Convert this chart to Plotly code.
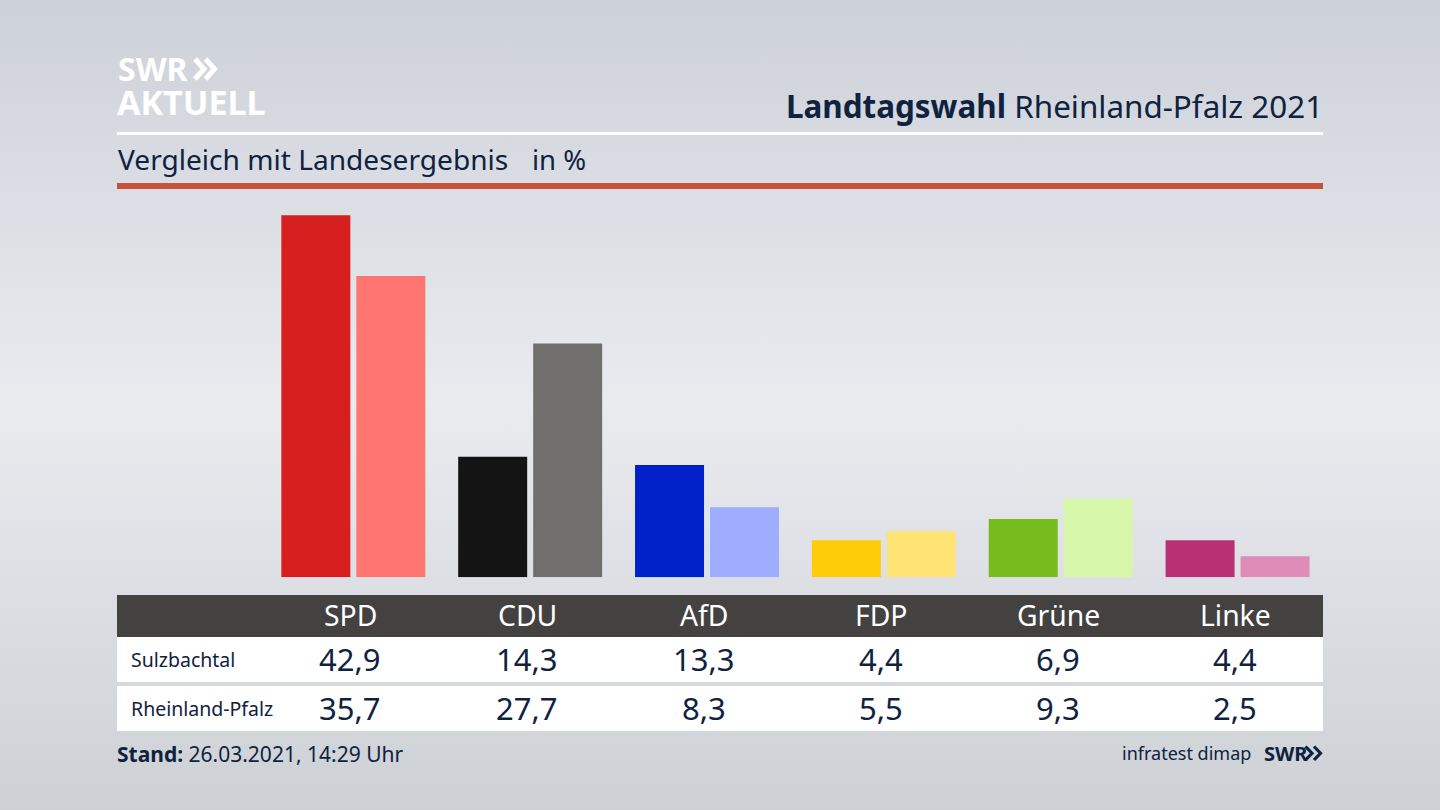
import plotly.graph_objects as go

# данные
parties = ['SPD', 'CDU', 'AfD', 'FDP', 'Grüne', 'Linke']
region_name = 'Sulzbachtal'
state_name = 'Rheinland-Pfalz'
region_values = [42.9, 14.3, 13.3, 4.4, 6.9, 4.4]
state_values = [35.7, 27.7, 8.3, 5.5, 9.3, 2.5]
region_colors = ['#d71f1f', '#141414', '#0021c8', '#ffcc08', '#78bb1c', '#b93075']
state_colors = ['#ff7570', '#716f6d', '#9eadff', '#ffe375', '#d6f7a9', '#e08cb8']

W = 1440
H = 810
NAVY = '#0f2240'
FONT = 'Noto Sans'


# перевод пикселей в координаты paper
def px(x):
    return x / W


def py(y):
    return 1 - y / H


def label(text, x, y, size, color=NAVY, anchor='left'):
    fig.add_annotation(
        text=text, x=px(x), y=py(y), xref='paper', yref='paper',
        xanchor=anchor, yanchor='middle', showarrow=False,
        font=dict(family=FONT, size=size, color=color),
        borderpad=0
    )


def rect(x0, y0, x1, y1, color):
    fig.add_shape(
        type='rect', xref='paper', yref='paper',
        x0=px(x0), x1=px(x1), y0=py(y0), y1=py(y1),
        fillcolor=color, line=dict(width=0), layer='above'
    )


def chevrons(x, y, w, h, gap, color, lw):
    # двойная стрелка логотипа SWR
    for dx in (0, gap):
        path = (f'M {px(x + dx)} {py(y)} L {px(x + dx + w)} {py(y + h / 2)} '
                f'L {px(x + dx)} {py(y + h)}')
        fig.add_shape(type='path', xref='paper', yref='paper', path=path,
                      line=dict(color=color, width=lw), layer='above')


fig = go.Figure()

# фон: вертикальный градиент
fig.add_trace(go.Scatter(
    x=[0, 1, 1, 0, 0], y=[0, 0, 1, 1, 0],
    xaxis='x', yaxis='y', mode='lines', line=dict(width=0),
    fill='toself', fillcolor='#e0e2e7',
    fillgradient=dict(
        type='vertical',
        colorscale=[[0, '#cdd0d5'], [0.5, '#e9ebef'], [1, '#cdd1d8']]
    ),
    showlegend=False, hoverinfo='skip'
))

# столбцы
fig.add_trace(go.Bar(x=parties, y=region_values, name=region_name,
                     marker=dict(color=region_colors, line=dict(width=0)),
                     xaxis='x2', yaxis='y2', showlegend=False))
fig.add_trace(go.Bar(x=parties, y=state_values, name=state_name,
                     marker=dict(color=state_colors, line=dict(width=0)),
                     xaxis='x2', yaxis='y2', showlegend=False))

fig.update_layout(
    width=W, height=H,
    margin=dict(l=0, r=0, t=0, b=0),
    paper_bgcolor='#e0e2e7',
    plot_bgcolor='rgba(0,0,0,0)',
    barmode='group',
    bargap=0.152,
    bargroupgap=0.08,
    xaxis=dict(domain=[0, 1], range=[0, 1], visible=False, fixedrange=True),
    yaxis=dict(domain=[0, 1], range=[0, 1], visible=False, fixedrange=True),
    xaxis2=dict(domain=[px(264.9), px(1326.0)], anchor='y2', visible=False,
                type='category', categoryorder='array', categoryarray=parties),
    yaxis2=dict(domain=[py(577.3), py(197.6)], anchor='x2', visible=False, range=[0, 45]),
)

# линии заголовка
rect(117, 132, 1323, 135, '#ffffff')
rect(117, 183, 1323, 189, '#c8533a')

# логотип
label('<b>SWR</b>', 117, 69, 32, '#ffffff')
chevrons(195, 59, 9, 20, 10.5, '#ffffff', 5)
label('<b>AKTUELL</b>', 116, 102, 34, '#ffffff')

# заголовки
label('<b>Landtagswahl</b> Rheinland-Pfalz 2021', 1324, 105.5, 31.4, anchor='right')
label('Vergleich mit Landesergebnis', 117, 159.5, 28.1)
label('in %', 531, 159.5, 27.5)

# таблица
rect(117, 595, 1323, 637, '#434241')
rect(117, 637, 1323, 682, '#ffffff')
rect(117, 686, 1323, 731, '#ffffff')
label(region_name, 130, 659, 19.5)
label(state_name, 130, 708, 19.5)

for i, party in enumerate(parties):
    cx = 350.3 + 177 * i
    label(party, cx, 615, 28.3, '#ffffff', 'center')
    label(f'{region_values[i]:.1f}'.replace('.', ','), cx, 659, 31, anchor='center')
    label(f'{state_values[i]:.1f}'.replace('.', ','), cx, 708, 31, anchor='center')

# подвал
label('<b>Stand:</b> 26.03.2021, 14:29 Uhr', 116, 753.5, 21)
label('infratest dimap', 1252, 753, 18, anchor='right')
label('<b>SWR</b>', 1262.5, 753, 20)
chevrons(1305.5, 746.5, 6.5, 13.5, 8.5, NAVY, 3.2)

fig.write_html('out.html', config=dict(displayModeBar=False),
               post_script="document.body.style.margin='0';document.body.style.overflow='hidden';")
